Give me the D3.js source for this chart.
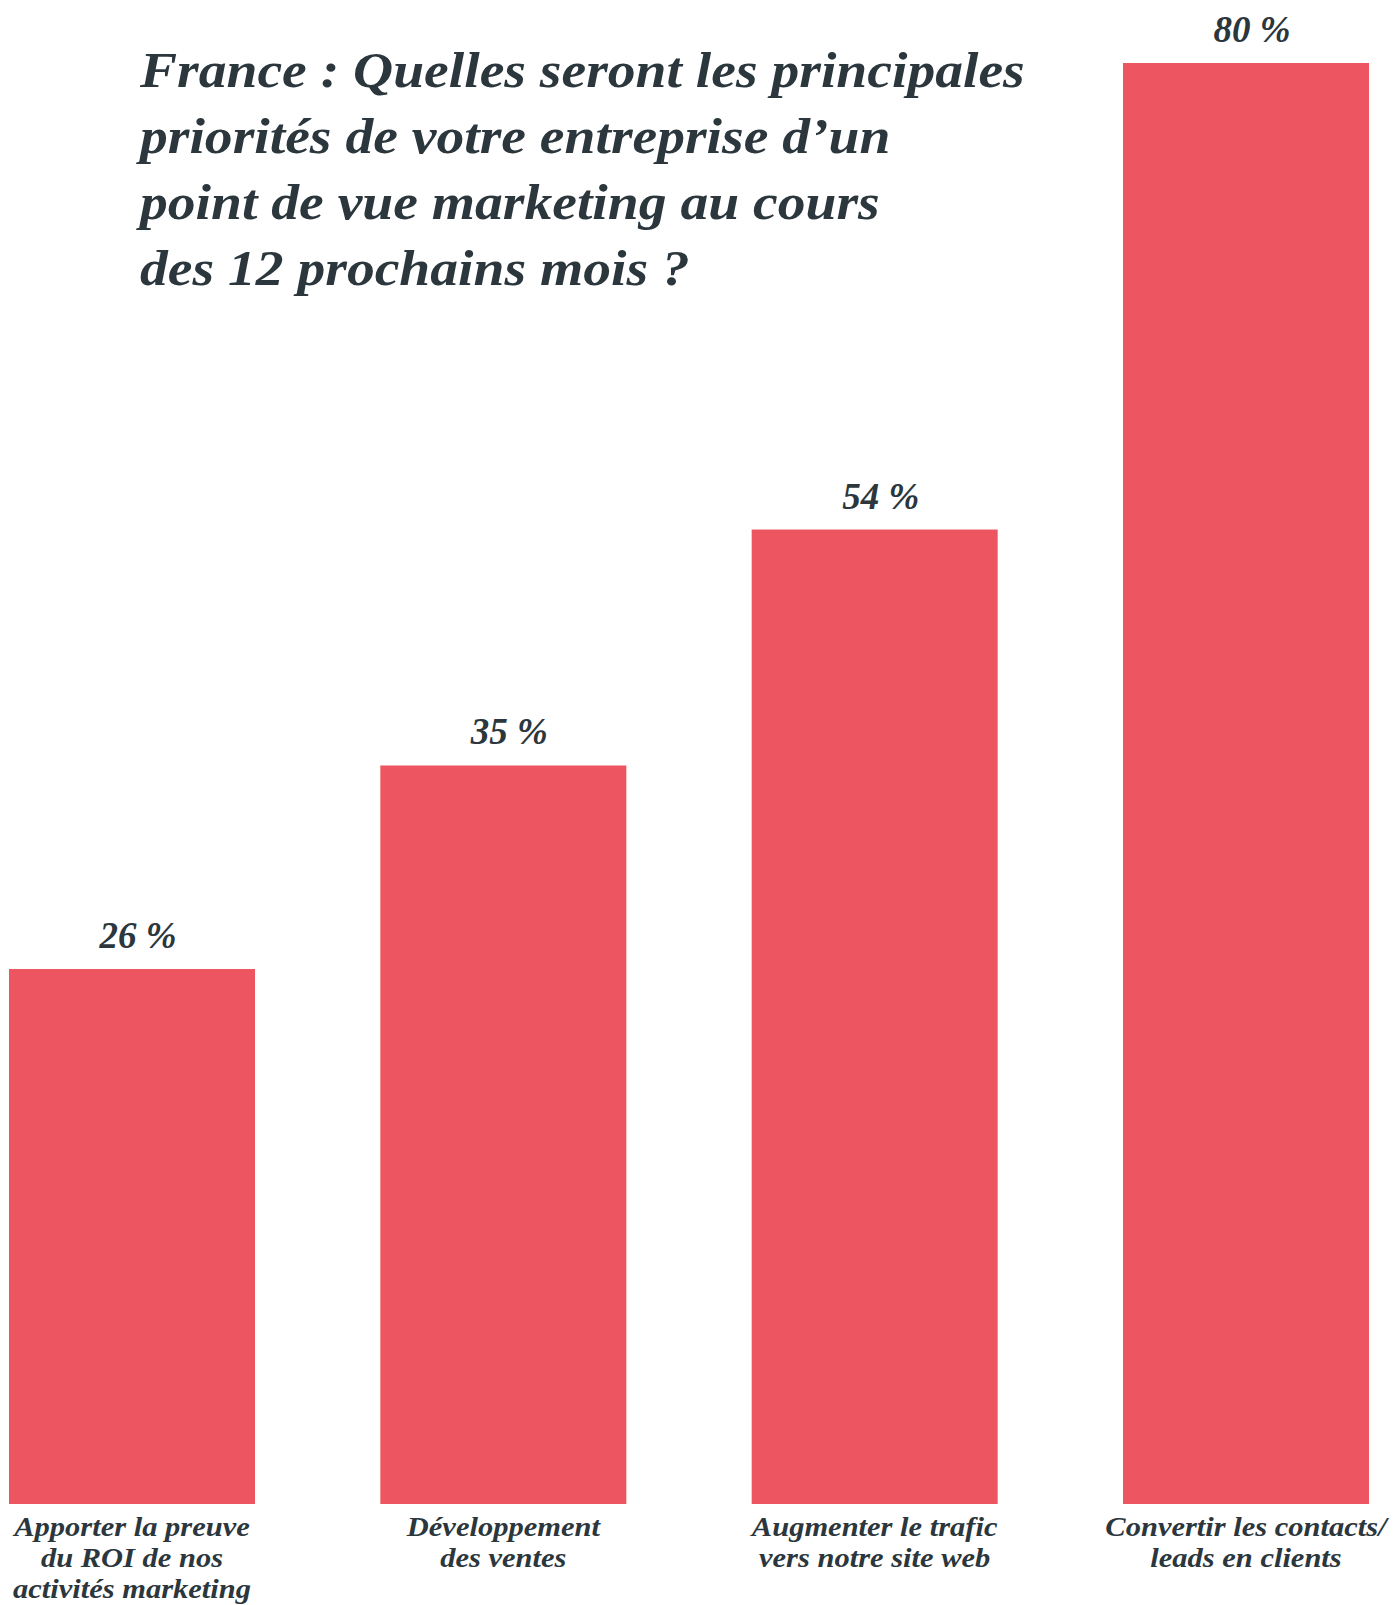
<!DOCTYPE html>
<html>
<head>
<meta charset="utf-8">
<script src="https://cdn.jsdelivr.net/npm/d3@7"></script>
<style>
  html, body { margin: 0; padding: 0; background: #fff; }
  svg { display: block; }
</style>
</head>
<body>
<div id="chart"></div>
<script>
// France : marketing priorities over the next 12 months

const TITLE_LINES = [
  'France : Quelles seront les principales',
  'priorités de votre entreprise d’un',
  'point de vue marketing au cours',
  'des 12 prochains mois ?',
];

const categories = [
  ['Apporter la preuve', 'du ROI de nos', 'activités marketing'],
  ['Développement', 'des ventes'],
  ['Augmenter le trafic', 'vers notre site web'],
  ['Convertir les contacts/', 'leads en clients'],
];

// printed percentages
const valueLabels = [26, 35, 54, 80];
// bar lengths as drawn in the source (same % units)
const barValues = [29.7, 41.0, 54.1, 80];

const W = 1396, H = 1605;
const BAR_COLOR = '#ED5660';
const TEXT_COLOR = '#2B373D';
const FONT = "'Liberation Serif', 'Times New Roman', serif";

const svg = d3.select('#chart')
  .append('svg')
  .attr('width', W)
  .attr('height', H)
  .attr('viewBox', `0 0 ${W} ${H}`);

const x = d3.scaleBand()
  .domain(d3.range(categories.length))
  .range([9, 1369])
  .paddingInner(0.3375)
  .paddingOuter(0);

const y = d3.scaleLinear()
  .domain([0, 80])
  .range([1504, 63]);

// Bars
svg.selectAll('rect.bar')
  .data(barValues)
  .join('rect')
  .attr('class', 'bar')
  .attr('x', (d, i) => x(i))
  .attr('y', d => y(d))
  .attr('width', x.bandwidth())
  .attr('height', d => y(0) - y(d))
  .attr('fill', BAR_COLOR);

// Value labels (sit a little right of centre, as in the source)
svg.selectAll('text.value')
  .data(barValues)
  .join('text')
  .attr('class', 'value')
  .attr('x', (d, i) => x(i) + x.bandwidth() / 2 + 6)
  .attr('y', d => y(d) - 21)
  .attr('text-anchor', 'middle')
  .attr('fill', TEXT_COLOR)
  .attr('font-family', FONT)
  .attr('font-style', 'italic')
  .attr('font-weight', 'bold')
  .attr('font-size', 37)
  .text((d, i) => `${valueLabels[i]} %`);

// Category labels (multi-line, slightly widened)
const LABEL_SX = 1.13;
const catText = svg.selectAll('text.cat')
  .data(categories)
  .join('text')
  .attr('class', 'cat')
  .attr('text-anchor', 'middle')
  .attr('fill', TEXT_COLOR)
  .attr('font-family', FONT)
  .attr('font-style', 'italic')
  .attr('font-weight', 'bold')
  .attr('font-size', 27)
  .attr('transform', (d, i) => {
    const cx = x(i) + x.bandwidth() / 2;
    return `translate(${cx}, 0) scale(${LABEL_SX}, 1)`;
  });

catText.each(function(lines) {
  d3.select(this).selectAll('tspan')
    .data(lines)
    .join('tspan')
    .attr('x', 0)
    .attr('y', (d, j) => 1536 + j * 31)
    .text(d => d);
});

// Title
const title = svg.append('g')
  .attr('transform', 'translate(140, 0)');

const titleText = title.selectAll('text')
  .data(TITLE_LINES)
  .join('text')
  .attr('x', 0)
  .attr('y', (d, i) => 87 + i * 66)
  .attr('fill', TEXT_COLOR)
  .attr('font-family', FONT)
  .attr('font-style', 'italic')
  .attr('font-weight', 'bold')
  .attr('font-size', 50)
  .text(d => d);

// stretch title horizontally so the first line spans like the source
const firstLen = titleText.node().getComputedTextLength();
const sx = 885 / firstLen;
title.attr('transform', `translate(140, 0) scale(${sx}, 1)`);
</script>
</body>
</html>
